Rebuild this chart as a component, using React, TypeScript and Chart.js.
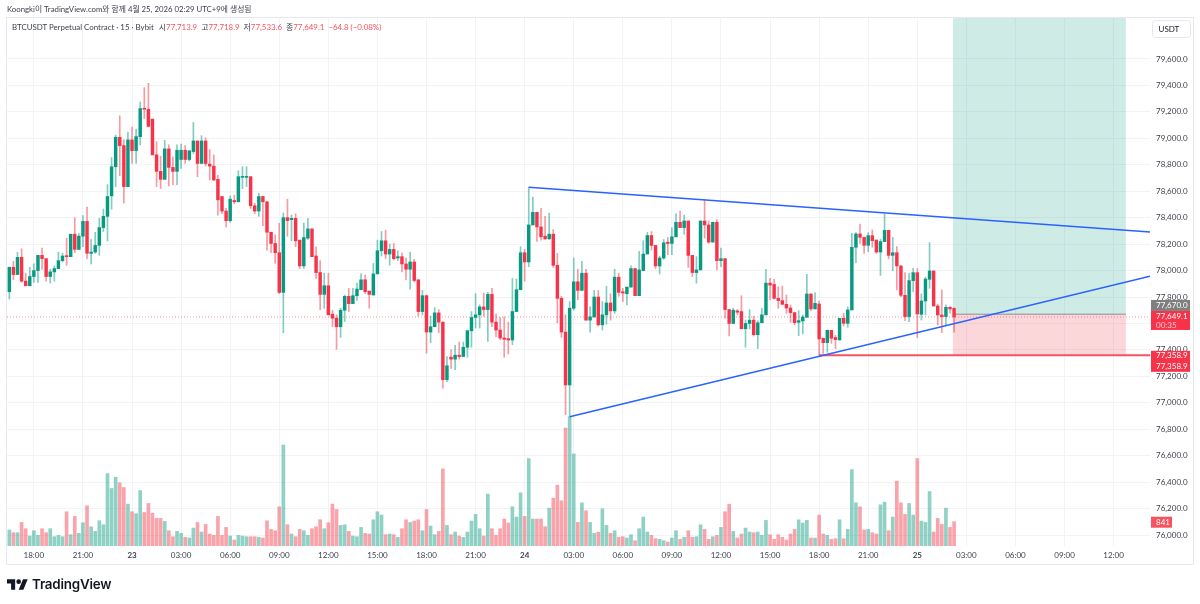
import React, { useEffect, useRef } from 'react';
import Chart from 'chart.js/auto';

const UP = '#089981';
const FONT = 'Lato, "Noto Sans CJK KR", sans-serif';

// 15 minute candles, first bar is 16:30 on the 22nd
const opens = [
  77840,78025,77970,78100,77920,77885,77955,78000,78115,78090,
  77955,77990,78015,78075,78110,78105,78275,78160,78260,78372,
  78130,78140,78190,78325,78410,78565,78785,79008,78945,78635,
  78988,78907,79013,79225,79220,79145,78875,78750,78690,78920,
  78780,78750,78840,78910,78840,78900,78980,78810,78980,78805,
  78790,78690,78560,78450,78377,78530,78520,78705,78705,78710,
  78490,78450,78560,78520,78290,78205,78135,77835,78400,78385,
  78395,78230,78035,78245,78315,78110,77985,77820,77885,77670,
  77640,77575,77700,77805,77750,77810,77855,77930,77845,77815,
  77975,78150,78225,78125,78160,78095,78105,78050,78010,78065,
  77930,77690,77810,77535,77575,77680,77610,77175,77345,77330,
  77360,77350,77420,77545,77645,77665,77725,77705,77820,77610,
  77550,77490,77485,77475,77690,77855,78135,78065,78345,78440,
  78330,78260,78240,78275,78040,77790,77535,77135,77715,77915,
  77850,77980,77625,77650,77800,77590,77665,77755,77695,77950,
  77840,77825,77875,78015,77810,78000,78125,78265,78190,78035,
  78095,78215,78205,78255,78365,78325,78375,78115,77985,78005,
  78375,78345,78215,78365,78075,78090,77705,77600,77695,77690,
  77560,77600,77625,77515,77605,77665,77905,77895,77790,77773,
  77745,77717,77682,77609,77619,77647,77823,77710,77747,77488,
  77455,77548,77493,77475,77639,77601,77702,78176,78277,78251,
  78191,78264,78231,78140,78219,78304,78115,78135,78035,77813,
  77652,77924,77984,77669,77770,77934,77997,77732,77664,77652,
  77722,77713.9,
];

const highs = [
  78025,78070,78138,78165,77980,78025,78050,78115,78170,78090,
  78010,78035,78140,78130,78245,78275,78400,78280,78415,78480,
  78235,78290,78395,78465,78650,78855,79025,79170,78988,79048,
  79086,79068,79275,79383,79416,79145,78975,78865,78985,78950,
  78860,78950,78957,78945,78910,79120,78980,79020,79005,78915,
  78875,78720,78560,78470,78565,78570,78755,78785,78785,78710,
  78510,78585,78560,78520,78290,78270,78357,78435,78540,78420,
  78430,78230,78360,78395,78315,78180,78075,77980,77980,77700,
  77665,77715,77815,77865,77865,77905,77975,77965,77845,78055,
  78230,78295,78305,78200,78205,78150,78135,78095,78140,78085,
  77930,77850,77815,77655,77720,77705,77610,77350,77400,77435,
  77460,77460,77550,77690,77825,77740,77830,77835,77865,77670,
  77645,77650,77610,77940,77935,78180,78160,78630,78555,78440,
  78470,78410,78435,78310,78130,77805,77665,77765,78095,78010,
  78070,78010,77725,77850,77850,77765,77880,77825,78010,77980,
  77865,77875,78035,78015,78145,78225,78290,78295,78190,78110,
  78235,78250,78325,78430,78450,78420,78375,78115,78105,78375,
  78535,78375,78365,78385,78170,78090,77705,77715,77705,77810,
  77625,77705,77655,77620,77715,78010,77941,77934,77878,77883,
  77815,77740,77682,77697,77664,77972,77823,77833,77770,77488,
  77551,77548,77510,77639,77677,77725,78282,78287,78352,78254,
  78287,78307,78231,78236,78425,78304,78251,78181,78035,77984,
  77979,78017,78014,77823,77949,78211,77997,77747,77853,77740,
  77727,77718.9,
];

const lows = [
  77785,77930,77970,77910,77885,77885,77910,77910,78010,77920,
  77905,77920,78015,78065,78040,78105,78135,78160,78180,78090,
  78050,78130,78115,78295,78225,78465,78635,78718,78510,78635,
  78810,78810,78950,79150,79090,78875,78635,78620,78690,78640,
  78650,78650,78773,78810,78830,78885,78710,78810,78790,78685,
  78680,78418,78430,78330,78365,78505,78520,78620,78635,78470,
  78430,78410,78340,78155,78135,78055,77825,77530,78260,78225,
  78180,78015,78015,78235,78105,77940,77705,77715,77665,77575,
  77405,77495,77615,77690,77750,77775,77855,77825,77715,77815,
  77975,78110,78090,78040,78080,78075,77990,77930,77860,77915,
  77655,77665,77375,77455,77575,77530,77110,77160,77260,77250,
  77330,77350,77345,77420,77565,77565,77655,77465,77575,77500,
  77475,77345,77370,77440,77690,77855,77920,78030,78345,78220,
  78230,78235,78235,78025,77605,77495,76910,76895,77700,77780,
  77850,77625,77535,77645,77580,77550,77595,77625,77675,77805,
  77765,77740,77875,77810,77810,78000,78125,78155,78015,77975,
  78085,78120,78120,78255,78325,78275,78025,77955,77905,78005,
  78245,78205,78215,78005,78030,77640,77505,77600,77665,77560,
  77420,77560,77505,77410,77605,77665,77778,77783,77715,77740,
  77677,77609,77589,77508,77520,77647,77697,77710,77357,77374,
  77382,77450,77410,77475,77581,77571,77702,78060,78206,78130,
  78143,78176,78130,77964,78219,78090,77999,77853,77803,77621,
  77614,77841,77493,77626,77664,77866,77732,77589,77531,77581,
  77677,77533.6,
];

const closes = [
  78025,77970,78100,77920,77885,77955,78000,78115,78090,77955,
  77990,78015,78075,78110,78105,78275,78160,78260,78372,78130,
  78140,78190,78325,78410,78560,78785,79008,78945,78635,78988,
  78907,79013,79225,79220,79090,78875,78750,78690,78920,78780,
  78750,78910,78910,78840,78905,78980,78810,78980,78810,78790,
  78685,78535,78450,78377,78540,78520,78710,78710,78710,78490,
  78450,78560,78520,78290,78205,78135,77835,78400,78378,78395,
  78225,78035,78250,78315,78105,77985,77820,77885,77665,77640,
  77575,77700,77805,77750,77810,77860,77930,77840,77820,77975,
  78150,78225,78125,78160,78090,78105,78050,78010,78065,77925,
  77690,77810,77535,77575,77680,77610,77175,77280,77330,77360,
  77350,77420,77545,77645,77665,77725,77705,77820,77610,77550,
  77490,77480,77475,77690,77855,78135,78065,78345,78440,78330,
  78255,78240,78275,78040,77790,77535,77135,77715,77915,77850,
  77980,77625,77650,77800,77590,77665,77755,77695,77950,77835,
  77830,77875,78015,77810,78005,78125,78265,78190,78035,78095,
  78210,78205,78255,78365,78325,78375,78115,77985,78005,78375,
  78345,78215,78365,78075,78090,77705,77600,77700,77685,77560,
  77600,77625,77515,77605,77665,77905,77890,77790,77773,77745,
  77717,77682,77606,77621,77649,77823,77710,77752,77483,77455,
  77548,77488,77478,77639,77601,77702,78176,78277,78251,78191,
  78264,78226,78140,78219,78304,78115,78135,78035,77813,77652,
  77924,77984,77672,77770,77936,77997,77732,77664,77652,77722,
  77710,77649.1,
];

const volumes = [
  552,460,460,816,598,345,529,368,598,460,
  598,322,368,322,1185,391,1024,437,805,1392,
  667,506,874,736,2507,1990,2380,2185,2024,1449,
  1185,1115,1920,1160,1472,1138,955,955,851,529,
  322,506,437,299,276,621,816,483,747,414,
  368,1024,368,644,345,207,368,345,322,322,
  322,299,276,874,575,529,1357,3496,736,414,
  322,575,529,368,598,667,908,598,805,1449,
  1265,713,736,506,345,322,644,437,414,908,
  1185,1070,391,414,391,299,598,908,816,863,
  908,529,1265,690,391,506,2668,713,391,483,
  345,299,483,863,1093,598,345,1794,598,368,
  598,932,794,1357,1001,1840,1024,3025,932,932,
  932,667,1311,1656,2105,1564,4083,4470,3186,816,
  1495,1219,816,437,483,1288,713,437,529,299,
  322,276,391,184,598,1001,483,368,253,230,
  184,138,276,529,230,299,529,299,322,736,
  575,230,322,368,644,1185,1449,506,276,414,
  621,483,460,483,368,886,391,230,391,299,
  207,414,575,908,794,886,276,276,1070,414,
  368,230,253,908,253,575,2645,1495,1357,552,
  575,460,414,1426,1518,529,1001,2243,1495,1093,
  1472,1070,3025,863,816,1886,483,955,747,1311,
  644,841,
];

const timeTickBars = [6,18,30,42,54,66,78,90,102,114,126,138,150,162,174,186,198,210,222,234,246,258,270];
const timeTickLabels = ['18:00','21:00','23','03:00','06:00','09:00','12:00','15:00','18:00','21:00','24','03:00','06:00','09:00','12:00','15:00','18:00','21:00','25','03:00','06:00','09:00','12:00'];
const dayLabels = ['23', '24', '25'];

const priceTicks = [79600,79400,79200,79000,78800,78600,78400,78200,78000,77800,77600,77400,77200,77000,76800,76600,76400,76200,76000];

// drawings, [bar, price]
const upperTrend = [[127, 78630], [278.9, 78291]];
const lowerTrend = [[137, 76895], [278.9, 77958]];
const stopLine = [[198, 77358.9], [278.9, 77358.9]];
const lastPriceLine = [[-0.57, 77649.1], [278.9, 77649.1]];
const positionBars = [230.7, 273];
const entryPrice = 77670;
const stopPrice = 77358.9;
const lastPrice = 77649.1;
const lastVolume = 841;

const barIndex = closes.map((_, i) => i);
const isUp = (i: number) => closes[i] >= opens[i];
const fmt = (v: number) => v.toLocaleString('en-US', { minimumFractionDigits: 1, maximumFractionDigits: 1 });

const toPoints = (pts: number[][]) => pts.map(([x, y]) => ({ x, y }));

const drawingsPlugin = {
  id: 'drawings',
  beforeDatasetsDraw(chart: any) {
    const { ctx, chartArea, scales } = chart;
    const x0 = scales.x.getPixelForValue(positionBars[0]);
    const x1 = scales.x.getPixelForValue(positionBars[1]);
    const entryY = scales.y.getPixelForValue(entryPrice);
    const stopY = scales.y.getPixelForValue(stopPrice);
    ctx.save();
    ctx.fillStyle = 'rgba(8,153,129,0.2)';
    ctx.fillRect(x0, chartArea.top, x1 - x0, entryY - chartArea.top);
    ctx.fillStyle = 'rgba(242,54,69,0.2)';
    ctx.fillRect(x0, entryY, x1 - x0, stopY - entryY);
    ctx.fillStyle = 'rgba(120,123,134,0.8)';
    ctx.fillRect(x0, entryY - 0.5, x1 - x0, 1);
    ctx.restore();
  },
  afterDraw(chart: any) {
    const { ctx, scales } = chart;
    const tag = (x: number, y: number, w: number, h: number, bg: string) => {
      ctx.fillStyle = bg;
      ctx.fillRect(x, y, w, h);
    };
    const text = (s: string, x: number, y: number, color: string) => {
      ctx.fillStyle = color;
      ctx.fillText(s, x, y);
    };
    ctx.save();
    ctx.strokeStyle = '#e6e8ee';
    ctx.lineWidth = 1;
    ctx.strokeRect(6.5, 17.5, 1187, 547);

    ctx.font = '8px ' + FONT;
    ctx.textBaseline = 'middle';
    ctx.textAlign = 'left';
    const lastY = scales.y.getPixelForValue(lastPrice);
    const stopY = scales.y.getPixelForValue(stopPrice);
    const volY = scales.yVol.getPixelForValue(lastVolume);

    tag(1151, lastY - 17, 39, 11, '#7f7f7f');
    text(fmt(entryPrice), 1156, lastY - 11.5, '#ffffff');
    tag(1151, lastY - 6, 39, 19, '#f7334a');
    text(fmt(lastPrice), 1156, lastY - 0.5, '#ffffff');
    text('00:35', 1156, lastY + 8.5, 'rgba(255,255,255,0.75)');

    tag(1151, stopY - 4.5, 39, 21, '#f7334a');
    text(fmt(stopPrice), 1156, stopY + 0.5, '#ffffff');
    text(fmt(stopPrice), 1156, stopY + 11.5, '#ffffff');

    tag(1151, volY - 5, 21, 11, '#f7525f');
    text(String(lastVolume), 1156, volY + 0.5, '#ffffff');

    ctx.strokeStyle = '#e6e8ee';
    ctx.beginPath();
    ctx.roundRect(1152.5, 20.5, 38, 17, 3);
    ctx.stroke();
    text('USDT', 1158.5, 29.5, '#131722');
    ctx.restore();
  },
};

export default function App() {
  const canvasRef = useRef<HTMLCanvasElement>(null);

  useEffect(() => {
    if (!canvasRef.current) return;
    const chart = new Chart(canvasRef.current, {
      type: 'bar',
      data: {
        datasets: [
          {
            type: 'line',
            data: toPoints(upperTrend),
            borderColor: '#2962ff',
            borderWidth: 1.5,
            pointRadius: 0,
            order: 0,
          },
          {
            type: 'line',
            data: toPoints(lowerTrend),
            borderColor: '#2962ff',
            borderWidth: 1.5,
            pointRadius: 0,
            order: 0,
          },
          {
            type: 'line',
            data: toPoints(stopLine),
            borderColor: '#f7525f',
            borderWidth: 2,
            pointRadius: 0,
            order: 0,
          },
          {
            type: 'line',
            data: toPoints(lastPriceLine),
            borderColor: 'rgba(242,54,69,0.55)',
            borderWidth: 1,
            borderDash: [1, 2],
            pointRadius: 0,
            order: 4,
          },
          {
            // bodies
            data: barIndex.map((i) => ({ x: i, y: [opens[i], closes[i]] })),
            backgroundColor: barIndex.map((i) => (isUp(i) ? UP : '#f7334a')),
            barThickness: 2.8,
            minBarLength: 1,
            grouped: false,
            order: 1,
          },
          {
            // wicks
            data: barIndex.map((i) => ({ x: i, y: [lows[i], highs[i]] })),
            backgroundColor: barIndex.map((i) => (isUp(i) ? 'rgba(8,153,129,0.5)' : 'rgba(242,54,69,0.5)')),
            barThickness: 1,
            grouped: false,
            order: 2,
          },
          {
            data: barIndex.map((i) => ({ x: i, y: volumes[i] })),
            backgroundColor: barIndex.map((i) => (isUp(i) ? 'rgba(8,153,129,0.45)' : 'rgba(242,54,69,0.45)')),
            barThickness: 3,
            grouped: false,
            yAxisID: 'yVol',
            order: 3,
          },
        ] as any,
      },
      options: {
        responsive: false,
        animation: false,
        layout: { padding: { left: 7, top: 18, right: 7, bottom: 40 } },
        plugins: { legend: { display: false }, tooltip: { enabled: false } },
        scales: {
          x: {
            type: 'linear',
            bounds: 'data',
            offset: false,
            min: -0.57,
            max: 278.9,
            grid: { color: '#f2f3f7', drawTicks: false, offset: false },
            border: { display: false },
            afterBuildTicks: (scale: any) => {
              scale.ticks = timeTickBars.map((value) => ({ value }));
            },
            afterFit: (scale: any) => {
              scale.height = 18;
            },
            ticks: {
              autoSkip: false,
              maxRotation: 0,
              padding: 5,
              color: '#3b3f4a',
              font: (ctx: any) => ({
                family: FONT,
                size: 8,
                weight: dayLabels.includes(ctx.tick?.label) ? 'bold' : 'normal',
              }),
              callback: (value: any) => timeTickLabels[timeTickBars.indexOf(value)],
            },
          },
          y: {
            position: 'right',
            bounds: 'data',
            min: 75917,
            max: 79910,
            grid: { color: '#f2f3f7', drawTicks: false },
            border: { display: false },
            afterBuildTicks: (scale: any) => {
              scale.ticks = priceTicks.map((value) => ({ value }));
            },
            afterFit: (scale: any) => {
              scale.width = 43;
            },
            ticks: {
              autoSkip: false,
              padding: 6,
              color: '#3b3f4a',
              font: { family: FONT, size: 8 },
              callback: (value: any) => fmt(value),
            },
          },
          yVol: {
            display: false,
            min: 0,
            max: 18270,
          },
        },
      } as any,
      plugins: [drawingsPlugin],
    });
    return () => chart.destroy();
  }, []);

  const red = { color: '#f7525f' };
  return (
    <div style={{ position: 'absolute', left: 0, top: 0, width: 1200, height: 604, background: '#fff', overflow: 'hidden' }}>
      <canvas ref={canvasRef} width={1200} height={604} style={{ display: 'block' }} />
      <div style={{ position: 'absolute', left: 7, top: 3, fontFamily: FONT, fontSize: 7.8, color: '#3b3f4a', whiteSpace: 'nowrap' }}>
        Koongki이 TradingView.com와 함께 4월 25, 2026 02:29 UTC+9에 생성됨
      </div>
      <div style={{ position: 'absolute', left: 12, top: 21, fontFamily: FONT, fontSize: 7.9, color: '#3b3f4a', whiteSpace: 'nowrap' }}>
        BTCUSDT Perpetual Contract · 15 · Bybit
        <span style={{ marginLeft: 5 }}>시</span><span style={red}>77,713.9</span>
        <span style={{ marginLeft: 4 }}>고</span><span style={red}>77,718.9</span>
        <span style={{ marginLeft: 4 }}>저</span><span style={red}>77,533.6</span>
        <span style={{ marginLeft: 4 }}>종</span><span style={red}>77,649.1</span>
        <span style={{ marginLeft: 4, ...red }}>−64.8 (−0.08%)</span>
      </div>
      <div style={{ position: 'absolute', left: 7, top: 576, display: 'flex', alignItems: 'center', color: '#131722' }}>
        <svg width="21" height="14" viewBox="0 0 36 24">
          <path d="M14 22H7V11H0V4h14v18zM28 22h-8l7.5-18h8L28 22z" fill="#131722" />
          <circle cx="20" cy="8" r="4" fill="#131722" />
        </svg>
        <span style={{ marginLeft: 4, fontFamily: 'Inter, sans-serif', fontWeight: 600, fontSize: 13.4, letterSpacing: -0.2 }}>TradingView</span>
      </div>
    </div>
  );
}
